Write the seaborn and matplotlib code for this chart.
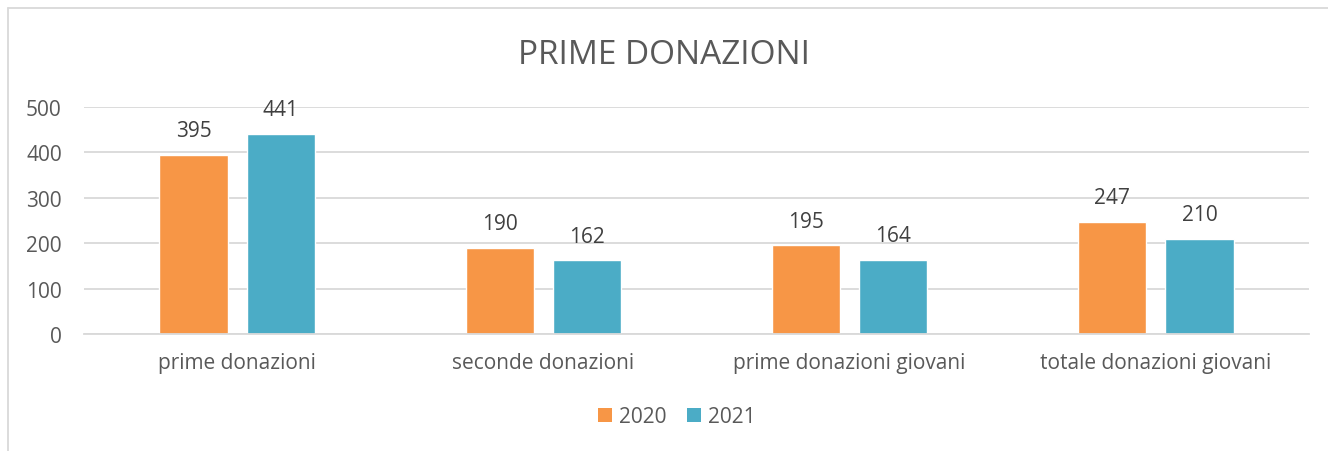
import matplotlib
matplotlib.use("Agg")
import matplotlib.pyplot as plt
import seaborn as sns
import pandas as pd
from matplotlib.lines import Line2D
from matplotlib.patches import Patch

categories = ["prime donazioni", "seconde donazioni", "prime donazioni giovani", "totale donazioni giovani"]
years = ["2020", "2021"]
values_2020 = [395, 190, 195, 247]
values_2021 = [441, 162, 164, 210]
yticks = [0, 100, 200, 300, 400, 500]
colors = ["#F79646", "#4BACC6"]

sns.set_style("white")
plt.rcParams["font.family"] = ["Open Sans", "DejaVu Sans"]

df = pd.DataFrame({
    "categoria": categories * 2,
    "anno": [years[0]] * len(categories) + [years[1]] * len(categories),
    "valore": values_2020 + values_2021,
})

fig = plt.figure(figsize=(13.28, 4.52), dpi=100)
ax = fig.add_axes([84 / 1328, 1 - 335 / 452, (1309 - 84) / 1328, (335 - 108) / 452])

sns.barplot(data=df, x="categoria", y="valore", hue="anno", palette=colors,
            width=0.569, gap=0.218, ax=ax, legend=False, saturation=1)

ax.set_ylim(0, 500)
ax.set_xlim(-0.5, len(categories) - 0.5)
ax.set_yticks(yticks)
ax.set_yticklabels([str(t) for t in yticks])
ax.yaxis.grid(True, color="#D9D9D9", linewidth=1.3)
ax.set_axisbelow(True)
for s in ["top", "right", "left"]:
    ax.spines[s].set_visible(False)
ax.spines["bottom"].set_color("#D9D9D9")
ax.spines["bottom"].set_linewidth(1.3)
ax.tick_params(axis="both", length=0, labelsize=15, colors="#595959")
ax.tick_params(axis="y", pad=16)
ax.tick_params(axis="x", pad=13)
ax.set_xlabel("")
ax.set_ylabel("")

for cont in ax.containers:
    for bar in cont:
        h = bar.get_height()
        ax.annotate(f"{int(round(h))}", (bar.get_x() + bar.get_width() / 2, h),
                    xytext=(0, 10), textcoords="offset points", ha="center", va="bottom",
                    fontsize=15, color="#404040")

fig.text(0.5, 1 - 55 / 452, "PRIME DONAZIONI", ha="center", va="center",
         fontsize=24, color="#595959")

handles = [Patch(facecolor=colors[i], edgecolor="none", label=years[i]) for i in range(2)]
fig.legend(handles=handles, loc="center", bbox_to_anchor=(677 / 1328, 1 - 418 / 452),
           ncol=2, frameon=False, fontsize=15, handlelength=0.65, handleheight=0.65,
           handletextpad=0.35, columnspacing=1.0, labelcolor="#595959")

# chart frame (top and left edges visible)
fig.add_artist(Line2D([8 / 1328, 8 / 1328], [0, 1 - 9 / 452], transform=fig.transFigure,
                      color="#D9D9D9", linewidth=1.3))
fig.add_artist(Line2D([8 / 1328, 1], [1 - 9 / 452, 1 - 9 / 452], transform=fig.transFigure,
                      color="#D9D9D9", linewidth=1.3))

fig.savefig("out.png", dpi=100, facecolor="white")
